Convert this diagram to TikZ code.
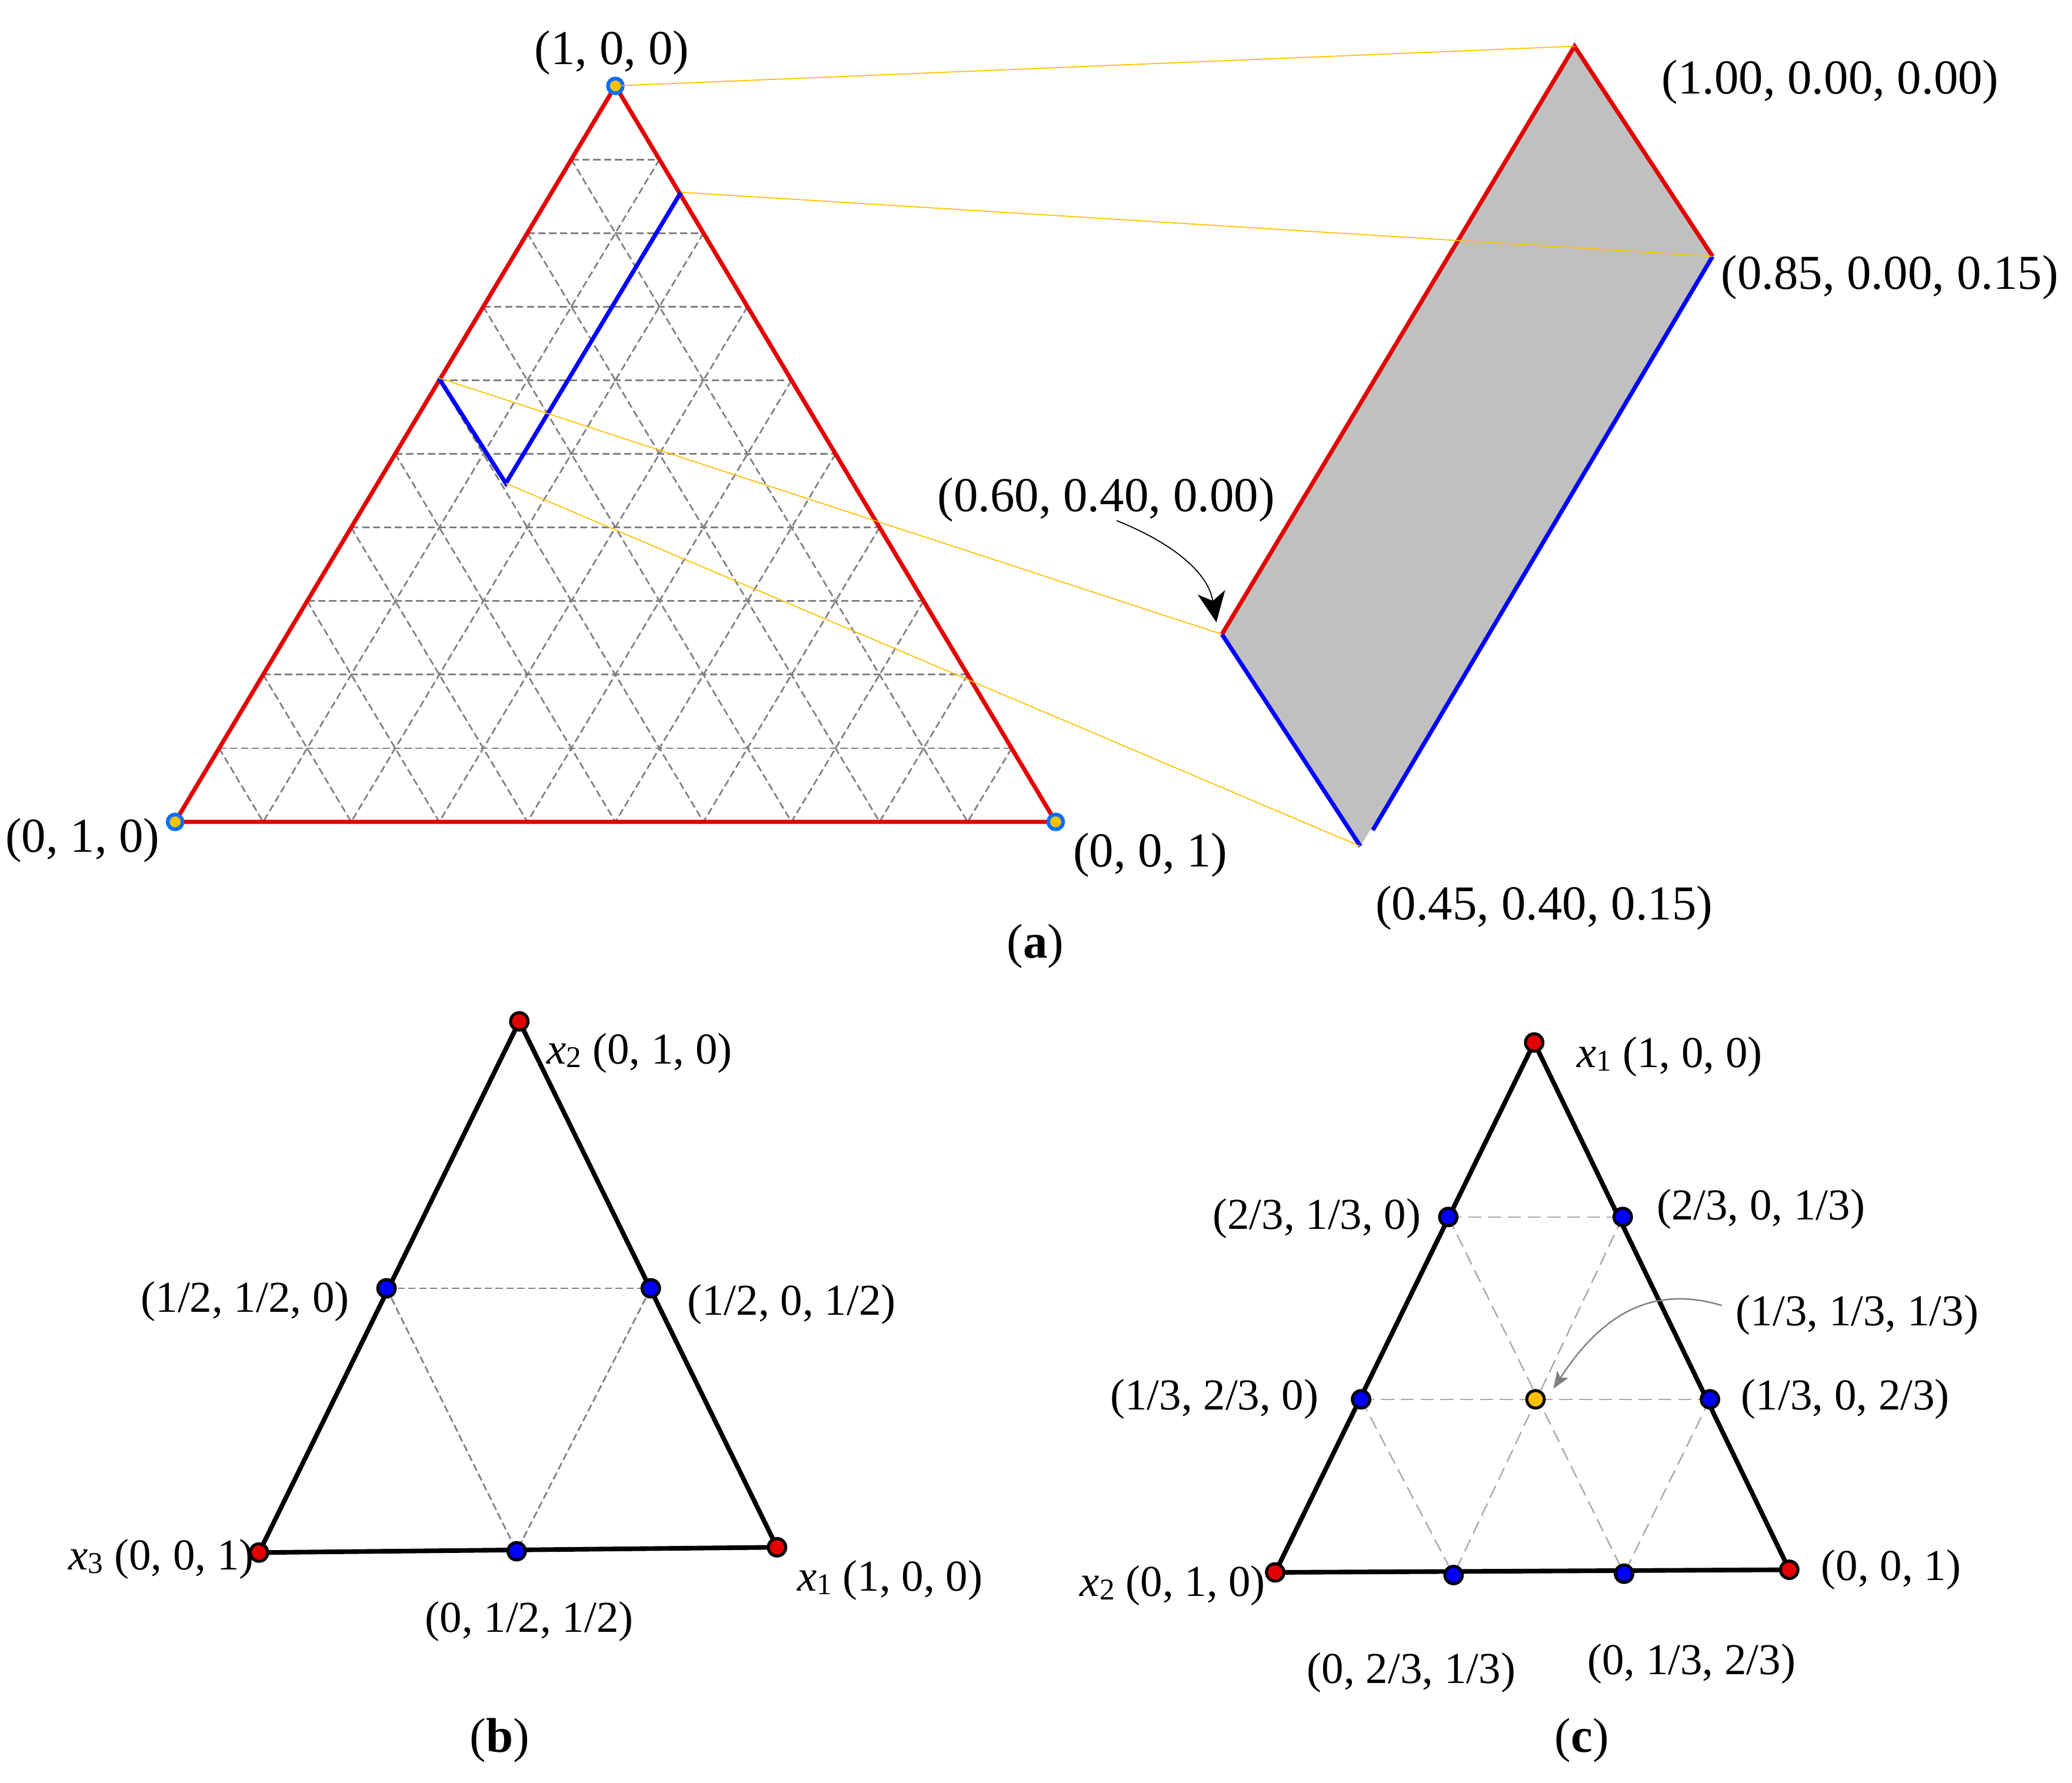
\documentclass[tikz,border=0pt]{standalone}
\usepackage{fontspec}
\setmainfont{Liberation Serif}
\usetikzlibrary{calc,arrows.meta}
\definecolor{tred}{RGB}{226,0,0}
\definecolor{tblue}{RGB}{0,0,255}
\definecolor{ringblue}{RGB}{0,112,255}
\definecolor{torange}{RGB}{255,192,0}
\definecolor{tgrey}{RGB}{128,128,128}
\definecolor{lgrey}{RGB}{170,170,170}
\definecolor{fillgrey}{RGB}{192,192,192}
\newcommand{\xs}[1]{\textit{x}{\fontsize{13pt}{13pt}\selectfont\raisebox{-0.25ex}{#1}}}
\begin{document}
\begin{tikzpicture}[x=0.02cm,y=-0.02cm,
  labA/.style={font=\fontsize{21pt}{25pt}\selectfont, inner sep=0pt},
  labB/.style={font=\fontsize{19pt}{23pt}\selectfont, inner sep=0pt},
  gridline/.style={draw=tgrey, line width=0.025cm, dash pattern=on 0.11cm off 0.055cm},
  lgridline/.style={draw=lgrey, line width=0.022cm, dash pattern=on 0.2cm off 0.1cm},
  redline/.style={draw=tred, line width=0.064cm},
  blueline/.style={draw=tblue, line width=0.064cm},
  oline/.style={draw=torange, line width=0.016cm},
  edgeline/.style={draw=black, line width=0.07cm},
  cornerdot/.style={circle, draw=ringblue, fill=torange, line width=0.056cm, minimum size=0.225cm, inner sep=0pt},
  dotR/.style={circle, draw=black, fill=tred, line width=0.045cm, minimum size=0.265cm, inner sep=0pt},
  dotB/.style={dotR, fill=tblue},
  dotO/.style={dotR, fill=torange}]
\useasboundingbox (0,0) rectangle (1568,1349);

% ---------------- panel (a) ----------------
\coordinate (T) at (465.7,65);
\coordinate (BL) at (132.5,622);
\coordinate (BR) at (798.9,622);
\coordinate (P85) at (515.3,145.5);
\coordinate (P45) at (382.8,365.8);
\coordinate (P60) at (332,286);
\coordinate (Q1) at (1191.5,35);
\coordinate (Q2) at (1296,194);
\coordinate (Q3) at (1029.5,640.5);
\coordinate (Q4) at (924.7,480);
\coordinate (Q3b) at (1038.8,628.3);

\fill[fillgrey] (Q1) -- (Q2) -- (Q3) -- (Q4) -- cycle;
\foreach \k in {1,...,9}{
  \draw[gridline] ($(T)!\k/10!(BL)$) -- ($(T)!\k/10!(BR)$);
  \draw[gridline] ($(T)!\k/10!(BR)$) -- ($(BL)!\k/10!(BR)$);
  \draw[gridline] ($(T)!\k/10!(BL)$) -- ($(BR)!\k/10!(BL)$);
}
\draw[redline] (T) -- (BL) -- (BR) -- cycle;
\draw[blueline] (P85) -- (P45) -- (P60);
\draw[redline] (Q4) -- (Q1) -- (Q2);
\draw[blueline] (Q4) -- (Q3);
\draw[blueline] (Q2) -- (Q3b);
\node[cornerdot] (vT) at (T) {};
\node[cornerdot] (vBL) at (BL) {};
\node[cornerdot] (vBR) at (BR) {};
\draw[oline] (T) -- (Q1);
\draw[oline] (P85) -- (Q2);
\draw[oline] (P60) -- (Q4);
\draw[oline] (P45) -- (Q3);

\node[labA] (lT) at (463,40) {(1, 0, 0)};
\node[labA] (lBL) at (62.5,636) {(0, 1, 0)};
\node[labA] (lBR) at (870.5,647) {(0, 0, 1)};
\node[labA] (lQ1) at (1385,62) {(1.00, 0.00, 0.00)};
\node[labA] (lQ2) at (1430,210) {(0.85, 0.00, 0.15)};
\node[labA] (lQ4) at (837,378) {(0.60, 0.40, 0.00)};
\node[labA] (lQ3) at (1168.5,687) {(0.45, 0.40, 0.15)};
\node[labA] (capA) at (783.5,716) {(\textbf{a})};
\coordinate (aS) at (845,394);
\coordinate (aE) at (920.5,471);
\draw[line width=0.016cm, -{Stealth[length=0.46cm,width=0.42cm,inset=0.13cm]}] (aS) .. controls (885,410) and (914,432) .. (aE);

% ---------------- panel (b) ----------------
\coordinate (bT) at (393,773);
\coordinate (bL) at (196,1175);
\coordinate (bR) at (588,1171);
\coordinate (bmL) at (292.5,975);
\coordinate (bmR) at (492.5,975);
\coordinate (bmB) at (391,1174);
\draw[gridline] (bmL) -- (bmR);
\draw[gridline] (bmL) -- (bmB);
\draw[gridline] (bmR) -- (bmB);
\draw[edgeline] (bT) -- (bL) -- (bR) -- cycle;
\node[dotR] (dbT) at (bT) {};
\node[dotR] (dbL) at (bL) {};
\node[dotR] (dbR) at (bR) {};
\node[dotB] (dbmL) at (bmL) {};
\node[dotB] (dbmR) at (bmR) {};
\node[dotB] (dbmB) at (bmB) {};
\node[labB] (lbT) at (484,797) {\xs{2} (0, 1, 0)};
\node[labB] (lbmL) at (185.5,985) {(1/2, 1/2, 0)};
\node[labB] (lbmR) at (599,987) {(1/2, 0, 1/2)};
\node[labB] (lbL) at (122,1180) {\xs{3} (0, 0, 1)};
\node[labB] (lbR) at (673.5,1196) {\xs{1} (1, 0, 0)};
\node[labB] (lbmB) at (400.5,1227) {(0, 1/2, 1/2)};
\node[labA] (capB) at (378,1317) {(\textbf{b})};

% ---------------- panel (c) ----------------
\coordinate (cT) at (1161,789);
\coordinate (cL1) at (1096,921);
\coordinate (cR1) at (1228,921);
\coordinate (cL2) at (1030,1059);
\coordinate (cC) at (1162,1059);
\coordinate (cR2) at (1294,1059);
\coordinate (cBL) at (965,1190);
\coordinate (cB1) at (1100,1192);
\coordinate (cB2) at (1229,1191);
\coordinate (cBR) at (1354,1188);
\draw[lgridline] (cL1) -- (cR1);
\draw[lgridline] (cL2) -- (cR2);
\draw[lgridline] (cL1) -- (cB2);
\draw[lgridline] (cR1) -- (cB1);
\draw[lgridline] (cL2) -- (cB1);
\draw[lgridline] (cR2) -- (cB2);
\draw[edgeline] (cT) -- (cBL) -- (cBR) -- cycle;
\node[dotR] (dcT) at (cT) {};
\node[dotR] (dcBL) at (cBL) {};
\node[dotR] (dcBR) at (cBR) {};
\node[dotB] (dcL1) at (cL1) {};
\node[dotB] (dcR1) at (cR1) {};
\node[dotB] (dcL2) at (cL2) {};
\node[dotB] (dcR2) at (cR2) {};
\node[dotB] (dcB1) at (cB1) {};
\node[dotB] (dcB2) at (cB2) {};
\node[dotO] (dcC) at (cC) {};
\node[labB] (lcT) at (1263.5,800) {\xs{1} (1, 0, 0)};
\node[labB] (lcL1) at (996.5,922) {(2/3, 1/3, 0)};
\node[labB] (lcR1) at (1332.5,915) {(2/3, 0, 1/3)};
\node[labB] (lcC) at (1405.5,995) {(1/3, 1/3, 1/3)};
\node[labB] (lcL2) at (919,1059) {(1/3, 2/3, 0)};
\node[labB] (lcR2) at (1396.5,1059) {(1/3, 0, 2/3)};
\node[labB] (lcBL) at (887.5,1200) {\xs{2} (0, 1, 0)};
\node[labB] (lcBR) at (1431,1188) {(0, 0, 1)};
\node[labB] (lcB1) at (1068,1266) {(0, 2/3, 1/3)};
\node[labB] (lcB2) at (1280,1259) {(0, 1/3, 2/3)};
\node[labA] (capC) at (1197,1317) {(\textbf{c})};
\coordinate (cS) at (1303,988);
\coordinate (cE) at (1175.5,1051);
\draw[tgrey, line width=0.022cm, -{Stealth[length=0.26cm,width=0.2cm,inset=0.06cm]}] (cS) .. controls (1250,972) and (1212,995) .. (cE);
\end{tikzpicture}
\end{document}
